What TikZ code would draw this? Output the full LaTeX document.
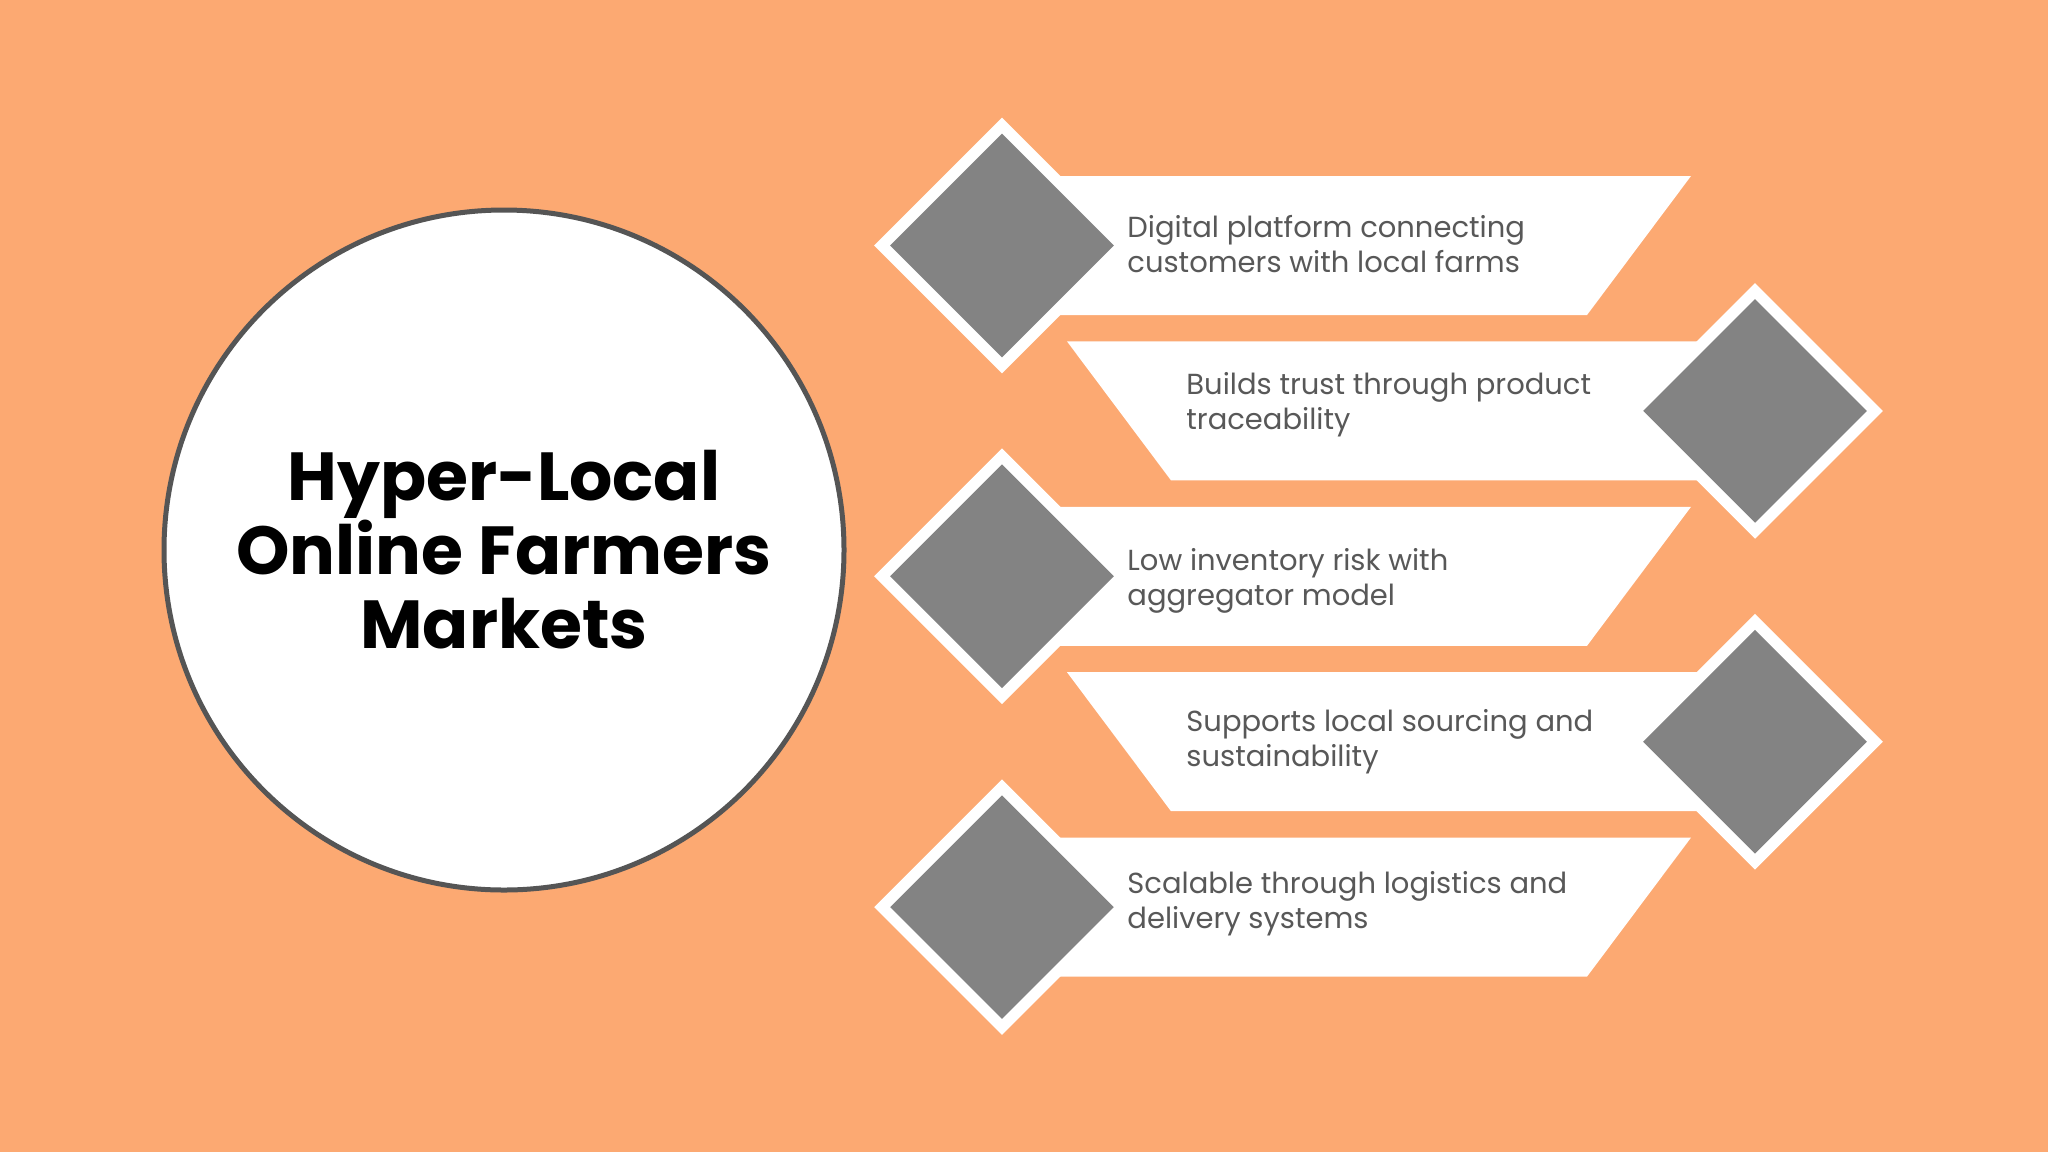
\documentclass[tikz,border=0pt]{standalone}
\usepackage{fontspec}
\setmainfont{Poppins}
\usetikzlibrary{shapes.geometric}
\definecolor{bgorange}{RGB}{252,169,114}
\definecolor{dgray}{RGB}{131,131,131}
\definecolor{txtgray}{RGB}{88,88,88}
\definecolor{ringgray}{RGB}{85,85,85}
\tikzset{
  banner/.style={fill=white, draw=none},
  outerdia/.style={diamond, aspect=1, fill=white, inner sep=0pt, minimum width=128pt, minimum height=128pt},
  innerdia/.style={diamond, aspect=1, fill=dgray, inner sep=0pt, minimum width=112pt, minimum height=112pt},
  itemtext/.style={anchor=west, align=left, text=txtgray, font=\fontsize{14.5pt}{17.5pt}\selectfont, inner sep=0pt},
  titletext/.style={align=center, text=black, font=\fontsize{34pt}{37pt}\selectfont\bfseries, inner sep=0pt}
}
\begin{document}
\begin{tikzpicture}[x=0.5pt,y=-0.5pt]
\fill[bgorange] (0,0) rectangle (2048,1152);
\useasboundingbox (0,0) rectangle (2048,1152);

% central circle
\node[circle, fill=white, draw=ringgray, line width=2.5pt, minimum size=340pt, inner sep=0pt] (hub) at (504,550) {};
\node[titletext] (title) at (504,550) {Hyper-Local\\Online Farmers\\Markets};

% banners (rows 1,3,5 left-type; rows 2,4 right-type)
\foreach \cy in {245.5,576.3,907.1}{
  \fill[banner] (1002,\cy-69.5) -- (1691,\cy-69.5) -- (1587,\cy+69.5) -- (1002,\cy+69.5) -- cycle;
}
\foreach \cy in {410.9,741.7}{
  \fill[banner] (1067,\cy-69.5) -- (1755,\cy-69.5) -- (1755,\cy+69.5) -- (1171,\cy+69.5) -- cycle;
}

% diamonds
\node[outerdia] (o1) at (1002,245.5) {};
\node[innerdia] (d1) at (1002,245.5) {};
\node[outerdia] (o2) at (1755,410.9) {};
\node[innerdia] (d2) at (1755,410.9) {};
\node[outerdia] (o3) at (1002,576.3) {};
\node[innerdia] (d3) at (1002,576.3) {};
\node[outerdia] (o4) at (1755,741.7) {};
\node[innerdia] (d4) at (1755,741.7) {};
\node[outerdia] (o5) at (1002,907.1) {};
\node[innerdia] (d5) at (1002,907.1) {};

% texts
\node[itemtext] (t1) at (1127,244) {Digital platform connecting\\customers with local farms};
\node[itemtext] (t2) at (1186,405) {Builds trust through product\\traceability};
\node[itemtext] (t3) at (1127,580.5) {Low inventory risk with\\aggregator model};
\node[itemtext] (t4) at (1186,742) {Supports local sourcing and\\sustainability};
\node[itemtext] (t5) at (1127,904) {Scalable through logistics and\\delivery systems};
\end{tikzpicture}
\end{document}
